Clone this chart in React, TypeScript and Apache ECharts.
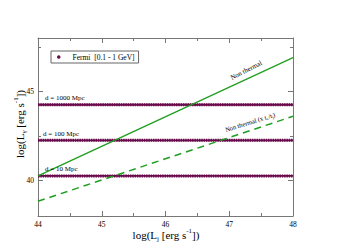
import React, { useEffect, useRef } from "react";
import * as echarts from "echarts";

const xRange = [44, 48];
const fermiLevels = [40.25, 42.25, 44.25];
const distanceLabels = ["d = 10 Mpc", "d = 100 Mpc", "d = 1000 Mpc"];
const nonThermal = [[44, 40.25], [48, 46.9]];
const nonThermalScaled = [[44, 38.83], [48, 43.6]];
const yMajorTicks = [40, 45];
const yMinorTicks = [42.5, 47.5];
const legendName = "Fermi  [0.1 - 1 GeV]";

const PURPLE = "#6a0a4c";
const GREEN = "#1f9e1f";
const FONT = "Liberation Serif";

export default function App() {
  const ref = useRef<HTMLDivElement>(null);
  useEffect(() => {
    document.body.style.margin = "0";
    const chart = echarts.init(ref.current!, null, { renderer: "svg" });
    const axisLine = { show: true, lineStyle: { color: "#777", width: 1 } };
    const yBase = (pos: string) => ({
      type: "value",
      position: pos,
      min: 38,
      max: 48,
      axisLine,
      splitLine: { show: false },
    });
    const xBase = (pos: string) => ({
      type: "value",
      position: pos,
      min: 44,
      max: 48,
      interval: 1,
      axisLine,
      splitLine: { show: false },
      axisTick: { show: true, inside: true, length: 5, lineStyle: { color: "#777" } },
      minorTick: { show: true, splitNumber: 2, length: 3, lineStyle: { color: "#777" } },
    });
    const fermiSeries = fermiLevels.map((v) => ({
      type: "line",
      name: legendName,
      data: [[xRange[0], v], [xRange[1], v]],
      symbol: "none",
      color: PURPLE,
      lineStyle: { color: PURPLE, width: 3, type: [1.5, 0.8] },
      z: 3,
    }));
    const fermiCore = fermiLevels.map((v) => ({
      type: "line",
      data: [[xRange[0], v], [xRange[1], v]],
      symbol: "none",
      lineStyle: { color: PURPLE, width: 1.8 },
      z: 3,
    }));
    const labelY = (v: number) => chart.convertToPixel({ gridIndex: 0 }, [44, v])[1];
    chart.setOption({
      animation: false,
      grid: { left: 38, top: 38, right: 58, bottom: 32 },
      legend: {
        left: 51,
        top: 51,
        data: [{ name: legendName, icon: "circle" }],
        itemWidth: 3.5,
        itemHeight: 3.5,
        itemGap: 0,
        padding: [2, 4, 2, 6],
        borderColor: "#666",
        borderWidth: 1,
        borderRadius: 0,
        textStyle: { fontFamily: FONT, fontSize: 7.5, color: "#000", padding: [0, 0, 0, 7] },
      },
      xAxis: [
        {
          ...xBase("bottom"),
          axisLabel: { show: true, fontFamily: FONT, fontSize: 7.5, color: "#000", margin: 4 },
        },
        { ...xBase("top"), axisLabel: { show: false } },
      ],
      yAxis: [
        {
          ...yBase("left"),
          axisTick: { show: true, inside: true, length: 5, customValues: yMajorTicks, lineStyle: { color: "#777" } },
          axisLabel: { show: true, customValues: yMajorTicks, fontFamily: FONT, fontSize: 7.5, color: "#000", margin: 4 },
        },
        {
          ...yBase("left"),
          axisLine: { show: false },
          axisTick: { show: true, inside: true, length: 3, customValues: yMinorTicks, lineStyle: { color: "#777" } },
          axisLabel: { show: false },
        },
        {
          ...yBase("right"),
          axisTick: { show: true, inside: true, length: 5, customValues: yMajorTicks, lineStyle: { color: "#777" } },
          axisLabel: { show: false },
        },
        {
          ...yBase("right"),
          axisLine: { show: false },
          axisTick: { show: true, inside: true, length: 3, customValues: yMinorTicks, lineStyle: { color: "#777" } },
          axisLabel: { show: false },
        },
      ],
      series: [
        ...fermiCore,
        ...fermiSeries,
        {
          type: "line",
          data: nonThermal,
          symbol: "none",
          lineStyle: { color: GREEN, width: 1.3 },
          z: 4,
        },
        {
          type: "line",
          data: nonThermalScaled,
          symbol: "none",
          lineStyle: { color: GREEN, width: 1.5, type: [7, 5] },
          z: 4,
        },
      ],
    });
    const rich = {
      a: { fontFamily: FONT, fontSize: 11, fill: "#000" },
      sub: { fontFamily: FONT, fontSize: 7, fill: "#000", padding: [8, 0, 0, 0] },
      sup: { fontFamily: FONT, fontSize: 7, fill: "#000", padding: [0, 0, 8, 0] },
    };
    const smallRich = {
      a: { fontFamily: FONT, fontSize: 6.5, fill: "#000" },
      sub: { fontFamily: FONT, fontSize: 4.5, fill: "#000", padding: [4, 0, 0, 0] },
    };
    chart.setOption({
      graphic: [
        ...distanceLabels.map((t, i) => ({
          type: "text",
          x: i === 1 ? 43 : 45,
          y: labelY(fermiLevels[i]) - 3,
          style: { text: t, fontFamily: FONT, fontSize: 7, fill: "#000", verticalAlign: "bottom" },
          z: 10,
        })),
        {
          type: "text",
          x: 246,
          y: 70,
          rotation: 0.47,
          style: { text: "Non thermal", fontFamily: FONT, fontSize: 6.8, fill: "#000", align: "center", verticalAlign: "middle" },
          z: 10,
        },
        {
          type: "text",
          x: 250,
          y: 122,
          rotation: 0.3,
          style: {
            text: "{a|Non thermal (x t}{sub|c}{a|/t}{sub|j}{a|)}",
            rich: smallRich,
            align: "center",
            verticalAlign: "middle",
          },
          z: 10,
        },
        {
          type: "text",
          x: 166,
          y: 235,
          style: {
            text: "{a|log(L}{sub|j}{a| [erg s}{sup|-1}{a|])}",
            rich,
            align: "center",
            verticalAlign: "middle",
          },
        },
        {
          type: "text",
          x: 20,
          y: 124,
          rotation: Math.PI / 2,
          style: {
            text: "{a|log(L}{sub|γ}{a| [erg s}{sup|-1}{a|])}",
            rich,
            align: "center",
            verticalAlign: "middle",
          },
        },
      ],
    });
    return () => chart.dispose();
  }, []);
  return <div ref={ref} style={{ width: 351, height: 248, position: "absolute", left: 0, top: 0 }} />;
}
